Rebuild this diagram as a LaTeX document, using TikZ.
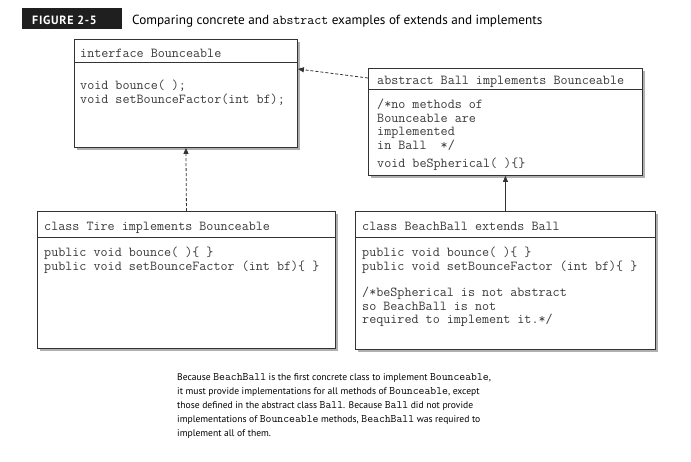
\documentclass[tikz,border=0pt]{standalone}
\usepackage{fontspec}
\setmainfont{PT Sans}
\newfontfamily\capfont{PT Sans}
\newfontfamily\figfont[LetterSpace=6]{PT Sans}
\newcommand{\codefont}{\ttfamily}
\newcommand{\cm}[1]{{\ttfamily\fontsize{11.4}{14}\selectfont #1}}
\usetikzlibrary{arrows.meta,calc}
\definecolor{boxline}{HTML}{333333}
\definecolor{codecol}{HTML}{3A3A3A}
\definecolor{shadowcol}{HTML}{B0B0B0}
\newcommand{\fl}{\rule{0pt}{9pt}}
\newcommand{\cl}{\rule{0pt}{8pt}}
\begin{document}
\begin{tikzpicture}[x=1pt,y=-1pt,
  umlbox/.style={draw=boxline,line width=0.9pt,fill=white,rectangle,inner sep=0pt,anchor=north west},
  codetxt/.style={font=\codefont\fontsize{13.7}{13.5}\selectfont,text=codecol,inner sep=0pt,align=left,anchor=north west},
  dasharrow/.style={draw=boxline,line width=0.8pt,dash pattern=on 3pt off 2pt,-{Triangle[length=6pt,width=5pt]}},
  solidarrow/.style={draw=boxline,line width=0.8pt,-{Triangle[length=6pt,width=5pt]}}
]
\useasboundingbox (0,0) rectangle (691,461);

% title
\node[fill=black!88,anchor=north west,minimum width=100pt,minimum height=21pt,inner sep=0pt] (figbox) at (22,8) {};
\node[anchor=base west,inner sep=0pt,text=white,font=\figfont\bfseries\fontsize{12}{14}\selectfont] (figlabel) at (32,24) {FIGURE 2-5};
\node[anchor=base west,inner sep=0pt,font=\capfont\fontsize{13.2}{15}\selectfont] (figcap) at (132,24) {Comparing concrete and {\codefont\fontsize{13.5}{15}\selectfont abstract} examples of extends and implements};

% shadows
\fill[shadowcol] (77,42) rectangle (300,150);
\fill[shadowcol] (371,71) rectangle (645,178);
\fill[shadowcol] (40,214) rectangle (338,351);
\fill[shadowcol] (358,214) rectangle (658,352);

% boxes
\node[umlbox,minimum width=223pt,minimum height=108pt] (iface) at (74,39) {};
\node[umlbox,minimum width=274pt,minimum height=107pt] (ball) at (368,68) {};
\node[umlbox,minimum width=298pt,minimum height=137pt] (tire) at (37,211) {};
\node[umlbox,minimum width=300pt,minimum height=138pt] (beach) at (355,211) {};

% header separators
\draw[boxline,line width=0.9pt] (iface.west |- 0,62) -- (iface.east |- 0,62);
\draw[boxline,line width=0.9pt] (ball.west |- 0,89) -- (ball.east |- 0,89);
\draw[boxline,line width=0.9pt] (tire.west |- 0,237) -- (tire.east |- 0,237);
\draw[boxline,line width=0.9pt] (beach.west |- 0,237) -- (beach.east |- 0,237);

% texts (y = first baseline - 9)
\node[codetxt] (ifaceh) at (80,48) {\fl interface Bounceable};
\node[codetxt] (ifaceb) at (80,80) {\fl void bounce( );\\void setBounceFactor(int bf);};

\node[codetxt] (ballh) at (377,75) {\fl abstract Ball implements Bounceable};
\node[codetxt] (ballb) at (377,99) {\fl /*no methods of\\Bounceable are\\implemented\\in Ball~~*/};
\node[codetxt] (ballc) at (377,158) {\fl void beSpherical( )\{\}};

\node[codetxt] (tireh) at (44,221) {\fl class Tire implements Bounceable};
\node[codetxt] (tireb) at (44,247) {\fl public void bounce( )\{ \}\\public void setBounceFactor (int bf)\{ \}};

\node[codetxt] (beachh) at (362,221) {\fl class BeachBall extends Ball};
\node[codetxt] (beachb) at (362,247) {\fl public void bounce( )\{ \}\\public void setBounceFactor (int bf)\{ \}};
\node[codetxt] (beachc) at (362,287) {\fl /*beSpherical is not abstract\\so BeachBall is not\\required to implement it.*/};

% connectors
\draw[dasharrow] ($(ball.north west)+(0,10)$) -- ($(iface.north east)+(0,30)$);
\draw[dasharrow] (tire.north) -- (iface.south);
\draw[solidarrow] (beach.north) -- (ball.south);

% bottom caption
\node[anchor=north west,inner sep=0pt,align=left,font=\capfont\fontsize{9.6}{14}\selectfont] (note) at (177,372)
{\cl Because \cm{BeachBall} is the first concrete class to implement \cm{Bounceable},\\
it must provide implementations for all methods of \cm{Bounceable}, except\\
those defined in the abstract class \cm{Ball}. Because \cm{Ball} did not provide\\
implementations of \cm{Bounceable} methods, \cm{BeachBall} was required to\\
implement all of them.};
\end{tikzpicture}
\end{document}
